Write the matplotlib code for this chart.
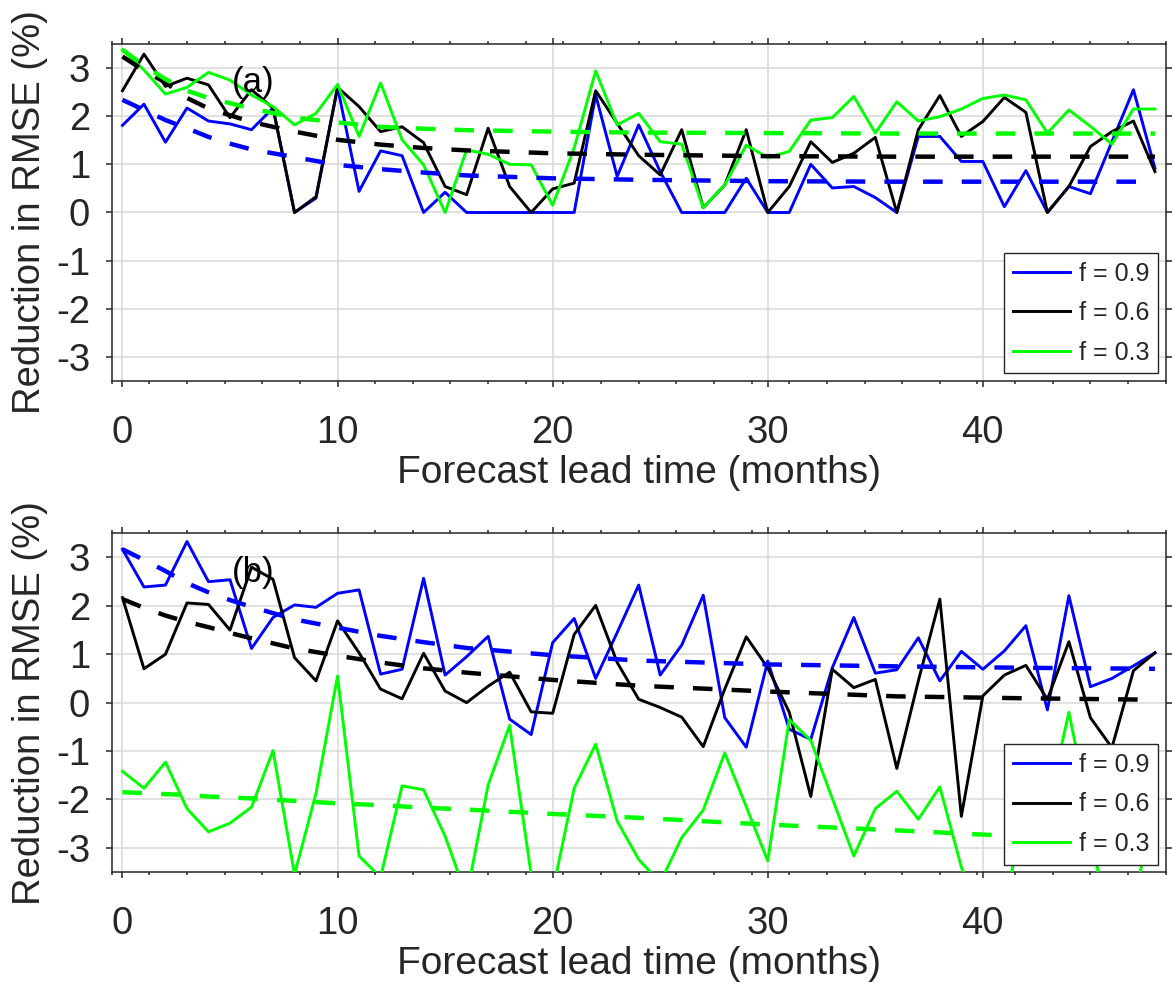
import numpy as np
import matplotlib
matplotlib.use('Agg')
import matplotlib.pyplot as plt
from matplotlib.ticker import FixedLocator

plt.rcParams['font.family'] = ['Liberation Sans', 'DejaVu Sans']
plt.rcParams['axes.unicode_minus'] = False

# forecast lead (months)
lead = np.arange(49)

# panel (a): reduction in RMSE (%) for each f
a_f09 = [1.81, 2.25, 1.46, 2.17, 1.90, 1.84, 1.72, 2.17, 0.0, 0.30,
         2.60, 0.44, 1.28, 1.18, 0.0, 0.42, 0.0, 0.0, 0.0, 0.0,
         0.0, 0.0, 2.44, 0.75, 1.82, 0.85, 0.0, 0.0, 0.0, 0.71,
         0.0, 0.0, 1.00, 0.51, 0.54, 0.31, 0.0, 1.58, 1.58, 1.06,
         1.06, 0.12, 0.87, 0.0, 0.54, 0.39, 1.47, 2.55, 0.92]
a_f06 = [2.53, 3.29, 2.62, 2.79, 2.65, 1.97, 2.55, 2.17, 0.0, 0.33,
         2.60, 2.20, 1.68, 1.78, 1.45, 0.54, 0.37, 1.75, 0.54, 0.0,
         0.49, 0.61, 2.53, 1.85, 1.18, 0.78, 1.72, 0.10, 0.57, 1.72,
         0.0, 0.54, 1.47, 1.04, 1.23, 1.56, 0.0, 1.72, 2.43, 1.58,
         1.89, 2.39, 2.08, 0.0, 0.54, 1.37, 1.68, 1.90, 0.85]
a_f03 = [3.38, 2.96, 2.46, 2.60, 2.91, 2.75, 2.44, 2.20, 1.82, 2.06,
         2.66, 1.58, 2.69, 1.51, 0.99, 0.0, 1.30, 1.21, 1.00, 0.99,
         0.15, 1.34, 2.94, 1.82, 2.06, 1.47, 1.42, 0.10, 0.57, 1.40,
         1.14, 1.27, 1.92, 1.97, 2.41, 1.65, 2.30, 1.90, 1.99, 2.15,
         2.37, 2.44, 2.34, 1.65, 2.13, 1.79, 1.42, 2.15, 2.15]

# panel (b)
b_f09 = [3.17, 2.39, 2.43, 3.33, 2.50, 2.54, 1.12, 1.76, 2.02, 1.97,
         2.26, 2.33, 0.59, 0.69, 2.57, 0.57, 0.95, 1.37, -0.34, -0.66,
         1.24, 1.74, 0.50, 1.45, 2.43, 0.57, 1.19, 2.22, -0.31, -0.92,
         0.86, -0.55, -0.76, 0.72, 1.76, 0.61, 0.68, 1.34, 0.45, 1.06,
         0.69, 1.07, 1.59, -0.15, 2.21, 0.33, 0.50, 0.76, 1.03]
b_f06 = [2.17, 0.70, 1.00, 2.06, 2.03, 1.50, 2.80, 2.55, 0.93, 0.45,
         1.69, 1.03, 0.28, 0.08, 1.02, 0.24, 0.0, 0.34, 0.63, -0.19,
         -0.22, 1.41, 2.01, 0.83, 0.07, -0.10, -0.30, -0.91, 0.28, 1.36,
         0.72, -0.20, -1.94, 0.69, 0.31, 0.48, -1.36, 0.45, 2.14, -2.35,
         0.14, 0.57, 0.77, 0.07, 1.26, -0.31, -0.93, 0.66, 1.03]
b_f03 = [-1.42, -1.77, -1.23, -2.19, -2.67, -2.49, -2.16, -0.99, -3.55, -1.87,
         0.55, -3.17, -3.61, -1.72, -1.80, -2.76, -4.00, -1.70, -0.47, -3.55,
         -3.90, -1.77, -0.86, -2.45, -3.24, -3.72, -2.79, -2.22, -1.04, -2.15,
         -3.27, -0.35, -0.78, -1.98, -3.17, -2.19, -1.83, -2.41, -1.74, -3.40,
         -4.50, -4.20, -2.14, -2.20, -0.20, -2.40, -5.50, -4.20, -2.00]

# fitted trend curves (dashed), read at these leads
trend_lead = [0, 1, 2, 3, 4, 5, 6, 8, 10, 12, 14, 16, 20, 24, 30, 36, 42, 48]
a_fit09 = [2.34, 2.13, 1.92, 1.75, 1.57, 1.43, 1.31, 1.15, 0.99, 0.90, 0.83, 0.77,
           0.71, 0.68, 0.65, 0.64, 0.64, 0.64]
a_fit06 = [3.24, 2.95, 2.70, 2.38, 2.16, 2.02, 1.88, 1.68, 1.51, 1.41, 1.34, 1.29,
           1.23, 1.20, 1.17, 1.16, 1.16, 1.16]
a_fit03 = [3.38, 3.05, 2.77, 2.53, 2.38, 2.27, 2.16, 1.97, 1.87, 1.78, 1.74, 1.71,
           1.68, 1.66, 1.65, 1.64, 1.64, 1.64]
b_fit09 = [3.17, 2.95, 2.72, 2.47, 2.28, 2.12, 1.98, 1.72, 1.55, 1.38, 1.25, 1.13,
           0.98, 0.87, 0.79, 0.75, 0.72, 0.70]
b_fit06 = [2.14, 1.96, 1.80, 1.67, 1.56, 1.44, 1.33, 1.12, 0.97, 0.83, 0.71, 0.62,
           0.47, 0.35, 0.23, 0.13, 0.09, 0.06]
b_fit03 = [-1.85, -1.87, -1.89, -1.91, -1.94, -1.96, -1.98, -2.03, -2.08, -2.12, -2.17,
           -2.21, -2.30, -2.38, -2.52, -2.64, -2.77, -2.90]

labels = ['f = 0.9', 'f = 0.6', 'f = 0.3']
colors = ['#0000ff', '#000000', '#00ff00']
dark = '#262626'

W, H = 1172, 988
fig = plt.figure(figsize=(W / 100, H / 100), dpi=100)
ax_a = fig.add_axes([111.7 / W, 1 - 381 / H, 1054 / W, 337 / H])
ax_b = fig.add_axes([111.7 / W, 1 - 872 / H, 1054 / W, 338.7 / H])


def draw_panel(ax, series, fits, tag):
    for y, c, lab in zip(series, colors, labels):
        ax.plot(lead, y, color=c, lw=2.1, label=lab, zorder=3)
    for y, c in zip(fits, colors):
        ax.plot(trend_lead, y, color=c, lw=3.2, dashes=(4.4, 4.3), zorder=3)
    ax.set_xlim(-0.5, 48.5)
    ax.set_ylim(-3.5, 3.5)
    ax.set_xticks([0, 10, 20, 30, 40])
    ax.set_yticks([-3, -2, -1, 0, 1, 2, 3])
    ax.xaxis.set_minor_locator(FixedLocator(np.arange(-0.5, 48.6, 1.75)))
    ax.grid(True, which='major', color='#d9d9d9', lw=1.1)
    ax.set_axisbelow(True)
    ax.tick_params(which='both', direction='out', top=True, right=True,
                   colors=dark, labelsize=27.5, width=1.1)
    ax.tick_params(which='major', length=4.5)
    ax.tick_params(which='minor', length=2)
    ax.tick_params(axis='x', pad=20)
    ax.tick_params(axis='y', pad=11)
    for s in ax.spines.values():
        s.set_color(dark)
        s.set_linewidth(1.1)
    ax.set_xlabel('Forecast lead time (months)', fontsize=28, color=dark, labelpad=3)
    ax.set_ylabel('Reduction in RMSE (%)', fontsize=27.5, color=dark, labelpad=6)
    ax.text(6.06, 2.69, tag, fontsize=25, ha='center', va='center', color='black', zorder=4)
    leg = ax.legend(loc='lower right', fontsize=18, handlelength=2.3,
                    handletextpad=0.35, borderpad=0.35, labelspacing=0.62,
                    borderaxespad=0.3, fancybox=False, framealpha=1)
    leg.get_frame().set_edgecolor(dark)
    leg.get_frame().set_linewidth(1.0)
    for t in leg.get_texts():
        t.set_color(dark)
    leg.set_zorder(5)


draw_panel(ax_a, [a_f09, a_f06, a_f03], [a_fit09, a_fit06, a_fit03], '(a)')
draw_panel(ax_b, [b_f09, b_f06, b_f03], [b_fit09, b_fit06, b_fit03], '(b)')

fig.savefig('out.png', dpi=100)
